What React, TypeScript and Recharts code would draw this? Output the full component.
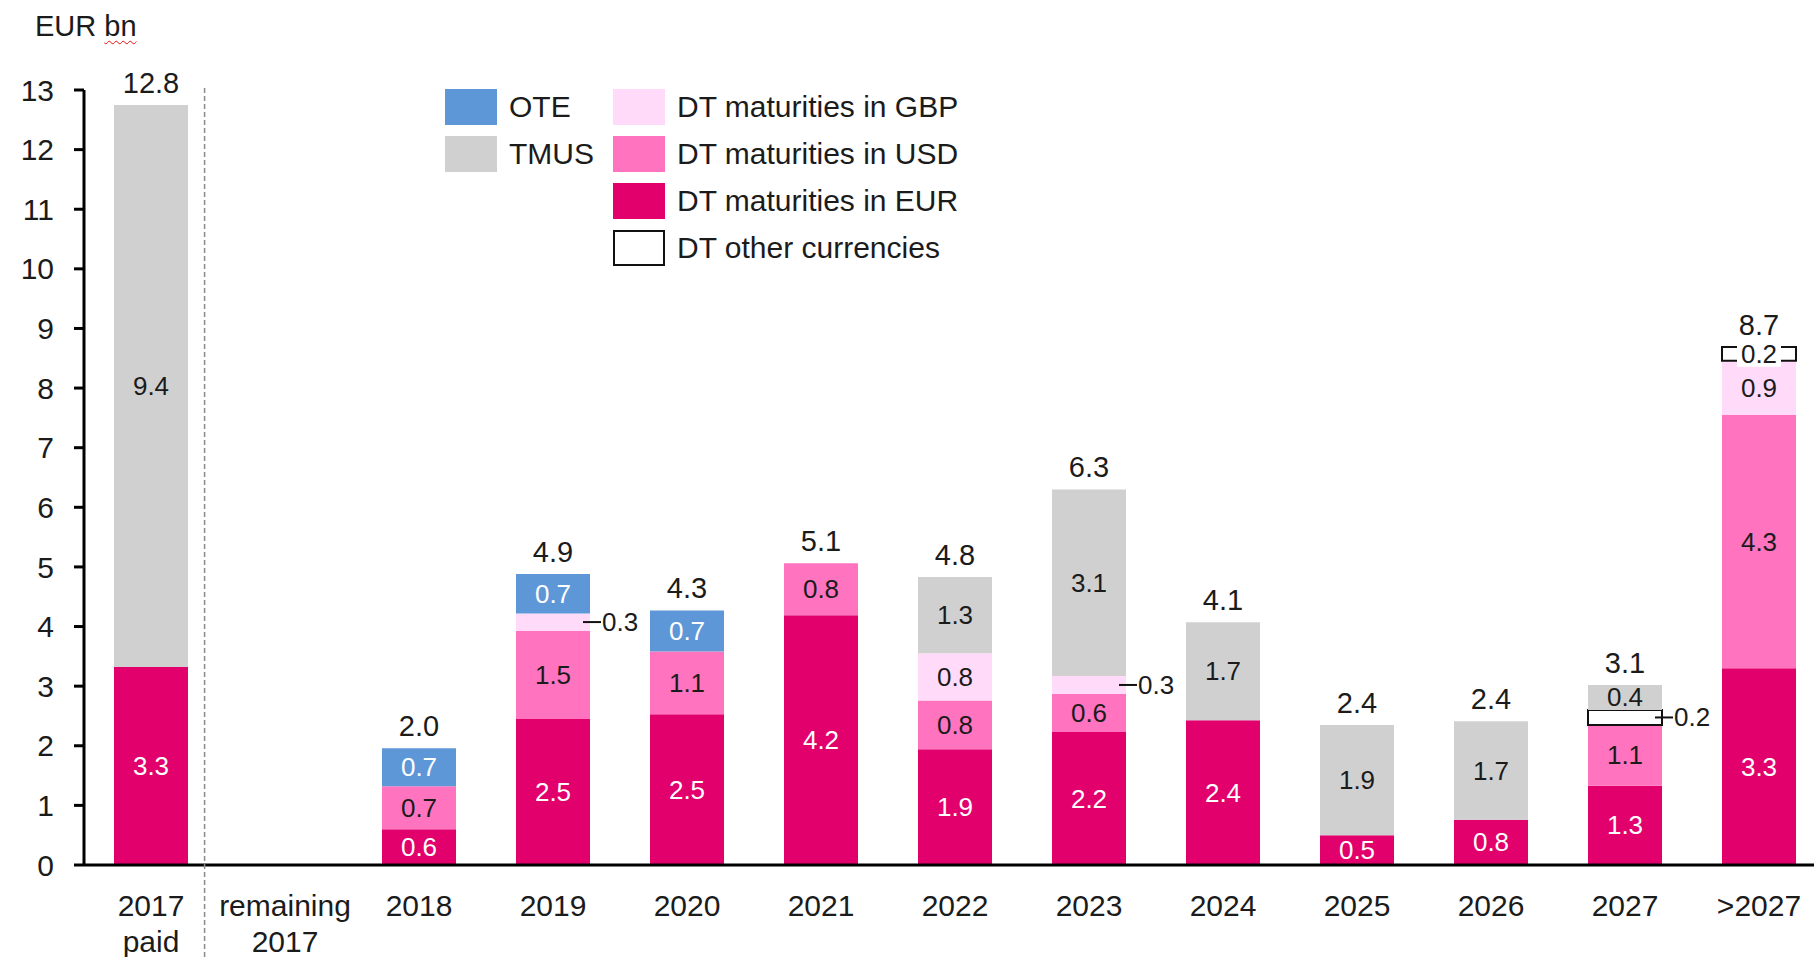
import React from 'react';
import { ComposedChart, Bar, Line, XAxis, YAxis, LabelList } from 'recharts';

const categories = ['2017\npaid', 'remaining\n2017', '2018', '2019', '2020', '2021', '2022', '2023', '2024', '2025', '2026', '2027', '>2027'];

// segment heights (EUR bn)
const eurValues = [3.32, 0, 0.6, 2.45, 2.53, 4.19, 1.94, 2.23, 2.43, 0.5, 0.76, 1.33, 3.3];
const usdValues = [0, 0, 0.72, 1.48, 1.05, 0.87, 0.82, 0.64, 0, 0, 0, 1.02, 4.25];
const gbpValues = [0, 0, 0, 0.29, 0, 0, 0.79, 0.3, 0, 0, 0, 0, 0.91];
const otherValues = [0, 0, 0, 0, 0, 0, 0, 0, 0, 0, 0, 0.25, 0.23];
const tmusValues = [9.43, 0, 0, 0, 0, 0, 1.28, 3.13, 1.64, 1.85, 1.65, 0.42, 0];
const oteValues = [0, 0, 0.64, 0.66, 0.69, 0, 0, 0, 0, 0, 0, 0, 0];

// numbers as printed in the segments
const eurLabels = ['3.3', '', '0.6', '2.5', '2.5', '4.2', '1.9', '2.2', '2.4', '0.5', '0.8', '1.3', '3.3'];
const usdLabels = ['', '', '0.7', '1.5', '1.1', '0.8', '0.8', '0.6', '', '', '', '1.1', '4.3'];
const gbpLabels = ['', '', '', '0.3', '', '', '0.8', '0.3', '', '', '', '', '0.9'];
const otherLabels = ['', '', '', '', '', '', '', '', '', '', '', '0.2', '0.2'];
const tmusLabels = ['9.4', '', '', '', '', '', '1.3', '3.1', '1.7', '1.9', '1.7', '0.4', ''];
const oteLabels = ['', '', '0.7', '0.7', '0.7', '', '', '', '', '', '', '', ''];
const totalLabels = ['12.8', '', '2.0', '4.9', '4.3', '5.1', '4.8', '6.3', '4.1', '2.4', '2.4', '3.1', '8.7'];

const yTicks = [0, 1, 2, 3, 4, 5, 6, 7, 8, 9, 10, 11, 12, 13];

// small segments whose number sits beside the bar on a short leader
const sideLabels = ['2019:gbp', '2023:gbp', '2027:other'];

const FONT = '"Liberation Sans", Arial, Helvetica, sans-serif';
const INK = '#1b1b1b';

const PLOT_LEFT = 84;
const PLOT_TOP = 90;
const BAND = 134;
const X_AXIS_H = 92;
const CHART_W = PLOT_LEFT + BAND * categories.length;
const CHART_H = 957;

const series = [
  { key: 'eur', name: 'DT maturities in EUR', fill: '#e2006d', ink: '#ffffff', values: eurValues, labels: eurLabels },
  { key: 'usd', name: 'DT maturities in USD', fill: '#ff73bf', ink: INK, values: usdValues, labels: usdLabels },
  { key: 'gbp', name: 'DT maturities in GBP', fill: '#ffdaf9', ink: INK, values: gbpValues, labels: gbpLabels },
  { key: 'other', name: 'DT other currencies', fill: '#ffffff', stroke: '#111111', ink: INK, values: otherValues, labels: otherLabels },
  { key: 'tmus', name: 'TMUS', fill: '#d0d0d0', ink: INK, values: tmusValues, labels: tmusLabels },
  { key: 'ote', name: 'OTE', fill: '#5e97d8', ink: '#ffffff', values: oteValues, labels: oteLabels },
];

const rows = categories.map((cat, i) => {
  const row: Record<string, any> = { cat, totalLabel: totalLabels[i] };
  let sum = 0;
  series.forEach((s) => {
    row[s.key] = s.values[i];
    row[s.key + 'Label'] = s.labels[i];
    sum += s.values[i];
  });
  row.total = sum;
  return row;
});

const segmentLabel = (key: string, ink: string) => (props: any) => {
  const { value } = props;
  if (!value) return null;
  const x = Number(props.x);
  const y = Number(props.y);
  const w = Number(props.width);
  const h = Number(props.height);
  const cx = x + w / 2;
  const cy = y + h / 2;
  // LabelList only passes the non-empty entries, so find the category from the band
  const catIdx = Math.round((cx - PLOT_LEFT - BAND / 2) / BAND);
  const cat = String(categories[catIdx] ?? '');
  if (sideLabels.includes(`${cat}:${key}`)) {
    const rx = x + w;
    return (
      <g>
        <line x1={rx - 7} x2={rx + 11} y1={cy} y2={cy} stroke="#111" strokeWidth={2} />
        <text x={rx + 12} y={cy} dominantBaseline="central" fontSize={26} fill={INK}>{value}</text>
      </g>
    );
  }
  if (key === 'other') {
    return (
      <g>
        <rect x={cx - 22} y={cy - 13} width={44} height={26} fill="#fff" />
        <text x={cx} y={cy} textAnchor="middle" dominantBaseline="central" fontSize={26} fill={ink}>{value}</text>
      </g>
    );
  }
  return (
    <text x={cx} y={cy} textAnchor="middle" dominantBaseline="central" fontSize={26} fill={ink}>{value}</text>
  );
};

const totalLabel = (props: any) => {
  if (!props.value) return null;
  return (
    <text x={Number(props.x)} y={Number(props.y) - 12} textAnchor="middle" fontSize={29} fill={INK}>
      {props.value}
    </text>
  );
};

const CategoryTick = (props: any) => {
  const { x, y, payload } = props;
  const lines = String(payload.value).split('\n');
  return (
    <text x={x} y={y} textAnchor="middle" fontSize={30} fill={INK}>
      {lines.map((line, i) => (
        <tspan key={i} x={x} dy={i === 0 ? 51 : 36}>{line}</tspan>
      ))}
    </text>
  );
};

const legendColumns = [
  { left: 445, keys: ['ote', 'tmus'] },
  { left: 613, keys: ['gbp', 'usd', 'eur', 'other'] },
];

function DebtLegend() {
  return (
    <>
      {legendColumns.map((col) => (
        <div key={col.left} style={{ position: 'absolute', left: col.left, top: 89, display: 'flex', flexDirection: 'column', gap: 11 }}>
          {col.keys.map((k) => {
            const s = series.find((item) => item.key === k)!;
            return (
              <div key={k} style={{ display: 'flex', alignItems: 'center', height: 36 }}>
                <div
                  style={{
                    width: 52,
                    height: 36,
                    boxSizing: 'border-box',
                    background: s.fill,
                    border: s.stroke ? `2px solid ${s.stroke}` : 'none',
                  }}
                />
                <span style={{ marginLeft: 12, fontSize: 30, lineHeight: '36px', color: INK, whiteSpace: 'nowrap' }}>{s.name}</span>
              </div>
            );
          })}
        </div>
      ))}
    </>
  );
}

export default function App() {
  const sepX = PLOT_LEFT + BAND * 0.9;
  return (
    <div style={{ position: 'absolute', left: 0, top: 0, width: 1814, height: 957, overflow: 'hidden', background: '#fff', fontFamily: FONT }}>
      <div style={{ position: 'absolute', left: 35, top: 9, fontSize: 29, lineHeight: '34px', color: INK }}>
        EUR{' '}
        <span style={{ textDecoration: 'underline wavy #e01010', textDecorationThickness: 1, textUnderlineOffset: 4 }}>bn</span>
      </div>

      <ComposedChart
        width={CHART_W}
        height={CHART_H}
        data={rows}
        margin={{ top: PLOT_TOP, right: 0, bottom: 0, left: 0 }}
        style={{ fontFamily: FONT }}
      >
        <XAxis
          dataKey="cat"
          interval={0}
          height={X_AXIS_H}
          tickLine={false}
          tickSize={0}
          tickMargin={0}
          axisLine={{ stroke: '#000', strokeWidth: 3 }}
          tick={<CategoryTick />}
        />
        <YAxis
          width={PLOT_LEFT}
          domain={[0, 13]}
          ticks={yTicks}
          interval={0}
          allowDataOverflow
          tickSize={10}
          tickMargin={20}
          tickLine={{ stroke: '#000', strokeWidth: 3 }}
          axisLine={{ stroke: '#000', strokeWidth: 3 }}
          tick={{ fontSize: 30, fill: INK }}
        />
        {series.map((s) => (
          <Bar
            key={s.key}
            dataKey={s.key}
            name={s.name}
            stackId="debt"
            fill={s.fill}
            stroke={s.stroke}
            strokeWidth={s.stroke ? 2 : 0}
            barSize={74}
            isAnimationActive={false}
          >
            <LabelList dataKey={s.key + 'Label'} content={segmentLabel(s.key, s.ink)} />
          </Bar>
        ))}
        <Line
          dataKey="total"
          stroke="none"
          dot={false}
          activeDot={false}
          legendType="none"
          isAnimationActive={false}
        >
          <LabelList dataKey="totalLabel" content={totalLabel} />
        </Line>
      </ComposedChart>

      <svg width={1814} height={957} style={{ position: 'absolute', left: 0, top: 0, pointerEvents: 'none' }}>
        <line x1={sepX} x2={sepX} y1={PLOT_TOP - 2} y2={957} stroke="#8a8a8a" strokeWidth={1.5} strokeDasharray="5 3" />
      </svg>

      <DebtLegend />
    </div>
  );
}
